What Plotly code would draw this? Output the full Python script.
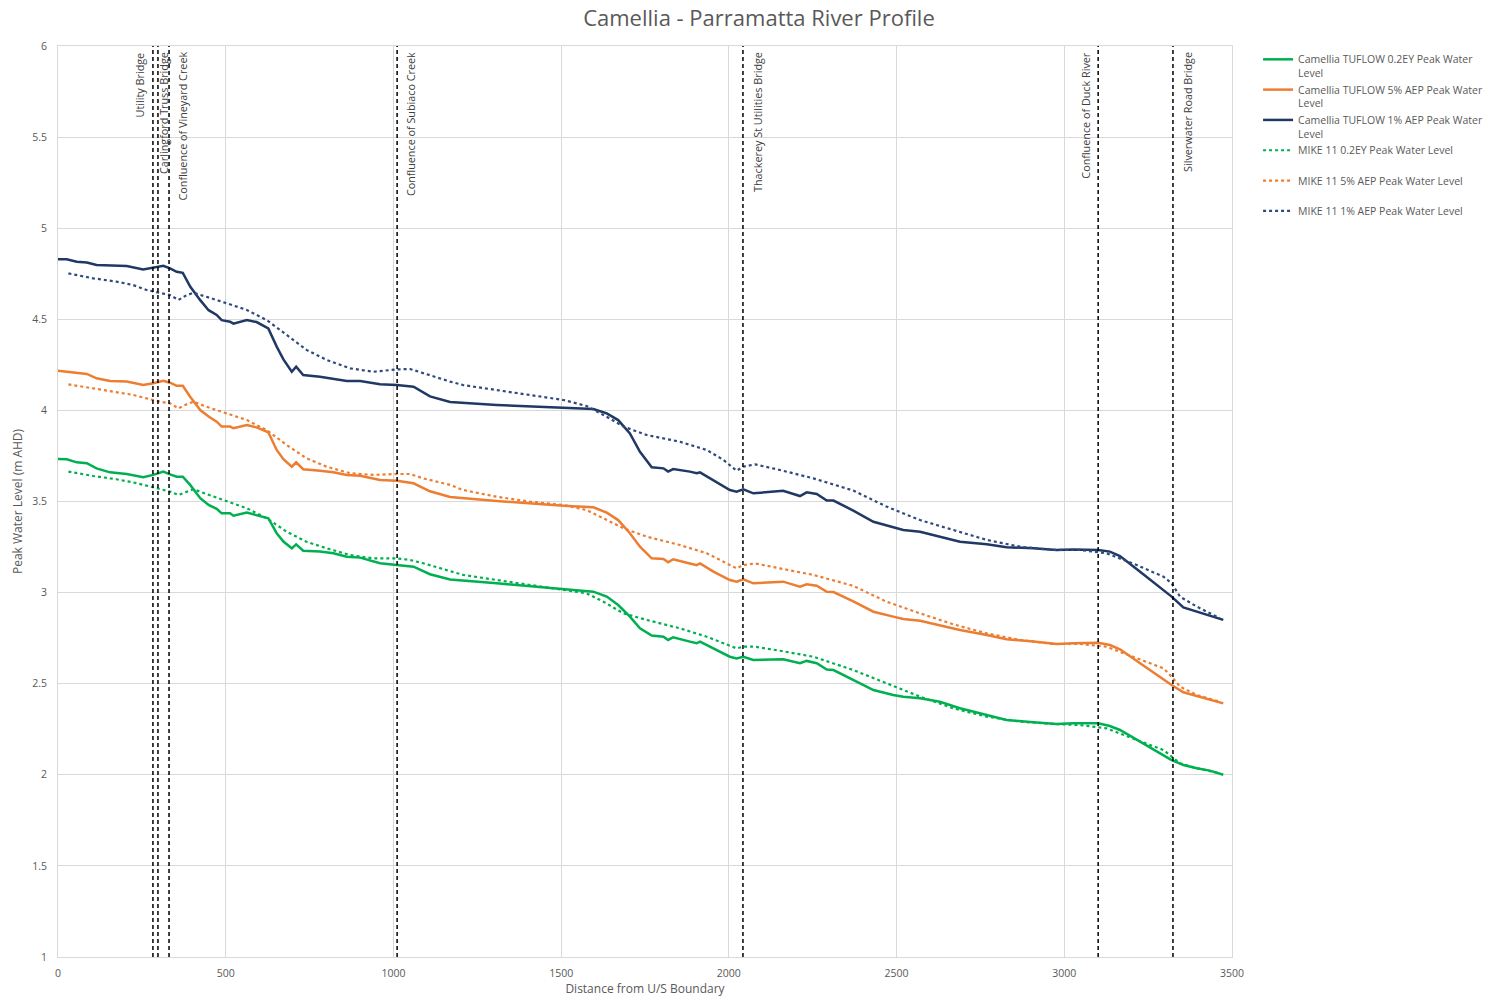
import plotly.graph_objects as go

# ---------------- data ----------------
tuflow_x = [0, 26, 56, 86, 115, 155, 205, 254, 284, 314, 334, 354, 372, 394, 424, 449, 473, 488,
            513, 523, 563, 592, 627, 652, 672, 697, 710, 731, 781, 821, 861, 901, 960, 1010, 1060,
            1109, 1169, 1308, 1507, 1596, 1636, 1670, 1705, 1735, 1770, 1805, 1819, 1834, 1884,
            1904, 1914, 1954, 2003, 2023, 2043, 2073, 2162, 2212, 2232, 2262, 2292, 2312, 2371,
            2431, 2490, 2520, 2570, 2629, 2689, 2769, 2828, 2908, 2977, 3027, 3101, 3136, 3166,
            3226, 3276, 3320, 3355, 3395, 3434, 3474]

tuflow_02ey = [3.733, 3.732, 3.715, 3.71, 3.682, 3.66, 3.651, 3.633, 3.646, 3.664, 3.649, 3.636, 3.636,
               3.591, 3.518, 3.481, 3.46, 3.435, 3.435, 3.422, 3.439, 3.426, 3.408, 3.326, 3.28, 3.243,
               3.265, 3.23, 3.225, 3.216, 3.197, 3.192, 3.161, 3.151, 3.142, 3.101, 3.072, 3.051, 3.02,
               3.005, 2.978, 2.932, 2.868, 2.804, 2.764, 2.758, 2.74, 2.755, 2.731, 2.722, 2.731, 2.694,
               2.648, 2.639, 2.648, 2.63, 2.634, 2.612, 2.625, 2.612, 2.578, 2.575, 2.52, 2.465, 2.438,
               2.429, 2.42, 2.401, 2.365, 2.328, 2.301, 2.288, 2.279, 2.283, 2.283, 2.268, 2.246, 2.182,
               2.127, 2.081, 2.054, 2.036, 2.023, 2.0]

tuflow_5aep = [4.218, 4.213, 4.204, 4.2, 4.176, 4.161, 4.158, 4.139, 4.149, 4.163, 4.152, 4.135, 4.135,
               4.075, 4.002, 3.966, 3.938, 3.911, 3.911, 3.902, 3.92, 3.907, 3.88, 3.783, 3.732, 3.691,
               3.715, 3.677, 3.669, 3.66, 3.646, 3.641, 3.618, 3.614, 3.6, 3.556, 3.525, 3.503, 3.477,
               3.468, 3.439, 3.398, 3.326, 3.252, 3.188, 3.184, 3.166, 3.183, 3.16, 3.151, 3.16, 3.115,
               3.069, 3.06, 3.073, 3.051, 3.06, 3.033, 3.046, 3.038, 3.004, 3.003, 2.952, 2.895, 2.868,
               2.855, 2.846, 2.822, 2.795, 2.767, 2.744, 2.731, 2.718, 2.722, 2.725, 2.712, 2.689, 2.612,
               2.548, 2.493, 2.453, 2.433, 2.414, 2.392]

tuflow_1aep = [4.829, 4.83, 4.816, 4.812, 4.798, 4.794, 4.792, 4.774, 4.783, 4.794, 4.78, 4.761, 4.755,
               4.68, 4.605, 4.55, 4.524, 4.495, 4.487, 4.476, 4.496, 4.485, 4.45, 4.35, 4.28, 4.212,
               4.24, 4.194, 4.185, 4.171, 4.161, 4.161, 4.143, 4.139, 4.13, 4.077, 4.046, 4.03, 4.015,
               4.008, 3.984, 3.947, 3.874, 3.773, 3.688, 3.682, 3.664, 3.678, 3.664, 3.655, 3.66, 3.618,
               3.563, 3.554, 3.567, 3.545, 3.559, 3.53, 3.55, 3.541, 3.505, 3.505, 3.45, 3.389, 3.358,
               3.344, 3.334, 3.307, 3.279, 3.265, 3.249, 3.243, 3.234, 3.237, 3.234, 3.225, 3.201, 3.115,
               3.042, 2.978, 2.919, 2.895, 2.872, 2.85]

mike_x = [31, 105, 174, 224, 264, 304, 334, 359, 379, 404, 443, 503, 563, 622, 682, 741, 801, 871, 940,
          1010, 1050, 1089, 1169, 1208, 1308, 1407, 1507, 1576, 1626, 1686, 1755, 1854, 1934, 1984,
          2023, 2043, 2078, 2152, 2252, 2371, 2470, 2570, 2669, 2769, 2868, 2967, 3047, 3126, 3216,
          3296, 3320, 3345, 3395, 3464]

mike_02ey = [3.664, 3.64, 3.622, 3.605, 3.587, 3.569, 3.554, 3.536, 3.549, 3.567, 3.541, 3.503, 3.463,
             3.408, 3.334, 3.279, 3.243, 3.206, 3.188, 3.188, 3.179, 3.161, 3.119, 3.097, 3.069, 3.042,
             3.018, 2.996, 2.95, 2.886, 2.85, 2.804, 2.758, 2.722, 2.694, 2.703, 2.703, 2.681, 2.648,
             2.575, 2.502, 2.429, 2.365, 2.319, 2.292, 2.279, 2.273, 2.255, 2.191, 2.136, 2.1, 2.063,
             2.036, 2.008]

mike_5aep = [4.143, 4.121, 4.103, 4.085, 4.066, 4.048, 4.039, 4.011, 4.03, 4.048, 4.02, 3.984, 3.947,
             3.892, 3.81, 3.737, 3.691, 3.655, 3.646, 3.651, 3.651, 3.627, 3.591, 3.563, 3.526, 3.499,
             3.481, 3.453, 3.408, 3.353, 3.307, 3.261, 3.216, 3.17, 3.133, 3.151, 3.16, 3.133, 3.097,
             3.037, 2.95, 2.886, 2.826, 2.776, 2.74, 2.718, 2.718, 2.703, 2.639, 2.584, 2.539, 2.484,
             2.438, 2.401]

mike_1aep = [4.752, 4.725, 4.707, 4.688, 4.661, 4.646, 4.633, 4.606, 4.628, 4.646, 4.624, 4.588, 4.551,
             4.496, 4.414, 4.332, 4.277, 4.231, 4.212, 4.225, 4.227, 4.204, 4.158, 4.139, 4.112, 4.085,
             4.057, 4.024, 3.975, 3.911, 3.865, 3.828, 3.783, 3.728, 3.669, 3.691, 3.704, 3.673, 3.627,
             3.56, 3.472, 3.398, 3.344, 3.289, 3.252, 3.234, 3.234, 3.216, 3.151, 3.087, 3.051, 2.978,
             2.923, 2.859]

feature_x = [283, 298, 331, 1011, 2042, 3101, 3324]
feature_names = ["Utility Bridge", "Carlingford Truss Bridge", "Confluence of Vineyard Creek",
                 "Confluence of Subiaco Creek", "Thackerey St Utilities Bridge",
                 "Confluence of Duck River", "Silverwater Road Bridge"]
feature_label_shift = [-13, 5, 13, 13, 14, -13, 14]

x_ticks = [0, 500, 1000, 1500, 2000, 2500, 3000, 3500]
y_ticks = [1, 1.5, 2, 2.5, 3, 3.5, 4, 4.5, 5, 5.5, 6]

GREEN = "#00B050"
ORANGE = "#ED7D31"
NAVY = "#1F3864"
TXT = "#595959"
FONT = "Open Sans"
NB = "\u00a0"

fig = go.Figure()

series = [
    ("Camellia TUFLOW 0.2EY Peak Water<br>Level", tuflow_x, tuflow_02ey, GREEN, "solid", 2.5),
    ("Camellia TUFLOW 5% AEP Peak Water<br>Level", tuflow_x, tuflow_5aep, ORANGE, "solid", 2.5),
    ("Camellia TUFLOW 1% AEP Peak Water<br>Level", tuflow_x, tuflow_1aep, NAVY, "solid", 2.5),
    ("MIKE 11 0.2EY Peak Water Level<br>" + NB, mike_x, mike_02ey, GREEN, "dot", 2.2),
    ("MIKE 11 5% AEP Peak Water Level<br>" + NB, mike_x, mike_5aep, ORANGE, "dot", 2.2),
    ("MIKE 11 1% AEP Peak Water Level<br>" + NB, mike_x, mike_1aep, "#2F4A7D", "dot", 2.2),
]
for name, xs, ys, col, dash, w in series:
    fig.add_trace(go.Scatter(x=xs, y=ys, mode="lines", name=name,
                             line=dict(color=col, width=w, dash=dash)))

for fx, fname, shift in zip(feature_x, feature_names, feature_label_shift):
    fig.add_shape(type="line", xref="x", yref="paper", x0=fx, x1=fx, y0=0, y1=1,
                  line=dict(color="black", width=1.5, dash="4px,3px"))
    fig.add_annotation(x=fx, y=1, xref="x", yref="paper", text=fname, textangle=-90,
                       showarrow=False, xanchor="center", yanchor="top",
                       xshift=shift, yshift=-4,
                       font=dict(family=FONT, size=10.8, color="#404040"))

fig.update_layout(
    width=1497, height=1000,
    margin=dict(l=58, r=265, t=46, b=43, autoexpand=False),
    paper_bgcolor="white", plot_bgcolor="white",
    title=dict(text="Camellia - Parramatta River Profile", x=0.507, xanchor="center",
               y=0.982, yanchor="middle",
               font=dict(family=FONT, size=22, color=TXT)),
    font=dict(family=FONT, size=10, color=TXT),
    legend=dict(x=1.0222, xanchor="left", y=1.0, yanchor="top", valign="top",
                font=dict(family=FONT, size=10.5, color=TXT), tracegroupgap=0,
                bgcolor="rgba(0,0,0,0)"),
    showlegend=True,
)
fig.update_xaxes(range=[0, 3500], tickvals=x_ticks, ticktext=[str(v) for v in x_ticks],
                 showgrid=True, gridcolor="#D9D9D9", gridwidth=1, zeroline=False,
                 showline=True, linecolor="#D9D9D9", linewidth=1, mirror=True,
                 ticks="", ticklabelstandoff=6, tickfont=dict(family=FONT, size=10.5, color=TXT),
                 title=dict(text="Distance from U/S Boundary", standoff=4,
                            font=dict(family=FONT, size=12, color=TXT)))
fig.update_yaxes(range=[1, 6], tickvals=y_ticks, ticktext=[f"{v:g}" for v in y_ticks],
                 showgrid=True, gridcolor="#D9D9D9", gridwidth=1, zeroline=False,
                 showline=True, linecolor="#D9D9D9", linewidth=1, mirror=True,
                 ticks="", ticklabelstandoff=8, tickfont=dict(family=FONT, size=10.5, color=TXT),
                 title=dict(text="Peak Water Level (m AHD)", standoff=6,
                            font=dict(family=FONT, size=12, color=TXT)))

fig.write_html("out.html")
